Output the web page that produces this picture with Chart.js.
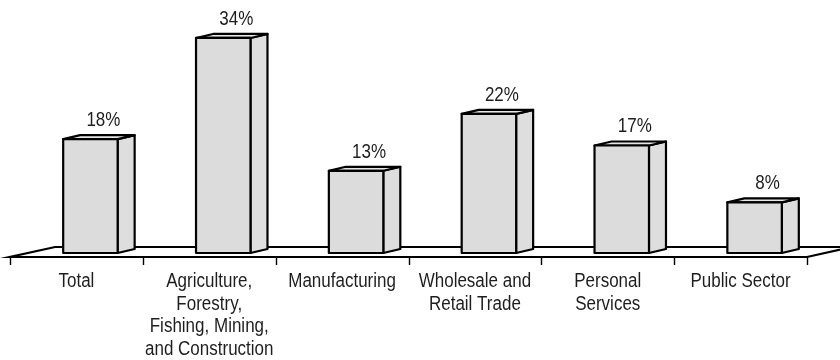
<!DOCTYPE html>
<html>
<head>
<meta charset="utf-8">
<script src="https://cdn.jsdelivr.net/npm/chart.js@4/dist/chart.umd.min.js"></script>
<style>
  html, body { margin: 0; padding: 0; background: #ffffff; }
  #wrap { position: relative; width: 840px; height: 360px; }
</style>
</head>
<body>
<div id="wrap"><canvas id="chart"></canvas></div>
<script>
// Share of workers by sector (percent)
const categories = [
  ['Total'],
  ['Agriculture,', 'Forestry,', 'Fishing, Mining,', 'and Construction'],
  ['Manufacturing'],
  ['Wholesale and', 'Retail Trade'],
  ['Personal', 'Services'],
  ['Public Sector']
];
const shares = [18, 34, 13, 22, 17, 8];
const valueLabels = ['18%', '34%', '13%', '22%', '17%', '8%'];

const FONT = "'Liberation Sans', Arial, sans-serif";
const FONT_SIZE = 20;
const SQUEEZE = 0.85;        // horizontal condensing of the label type
const LINE_STEP = 22.7;
const INK = '#1e1e1e';

// Oblique projection: floor depth and bar placement within it
const FLOOR_DX = 45, FLOOR_DY = -10;
const FRONT_DX = 14, FRONT_DY = -4;   // bar front plane behind the floor's front edge
const DEPTH_DX = 17, DEPTH_DY = -4;   // bar depth

function condensedText(ctx, text, x, y) {
  ctx.save();
  ctx.translate(x, y);
  ctx.scale(SQUEEZE, 1);
  ctx.fillText(text, 0, 0);
  ctx.restore();
}

const floor3d = {
  id: 'floor3d',
  beforeDatasetsDraw(chart) {
    const { ctx, chartArea } = chart;
    const x = chart.scales.x;
    const y0 = chartArea.bottom;
    const left = x.left, right = x.right;
    const step = (right - left) / categories.length;
    ctx.save();
    ctx.strokeStyle = '#000';
    ctx.lineWidth = 2.2;
    ctx.lineJoin = 'miter';
    ctx.beginPath();
    // back edge and left side
    ctx.moveTo(chart.width + 20, y0 + FLOOR_DY);
    ctx.lineTo(left + FLOOR_DX, y0 + FLOOR_DY);
    ctx.lineTo(left, y0);
    // front edge and right side
    ctx.lineTo(right, y0);
    ctx.lineTo(right + FLOOR_DX, y0 + FLOOR_DY);
    ctx.stroke();
    // category ticks on the front edge
    ctx.lineWidth = 1.4;
    ctx.beginPath();
    for (let k = 0; k <= categories.length; k++) {
      const px = Math.round(left + k * step) + 0.5;
      ctx.moveTo(px, y0);
      ctx.lineTo(px, y0 + 8);
    }
    ctx.stroke();

    // category labels under the floor
    ctx.fillStyle = INK;
    ctx.font = FONT_SIZE + 'px ' + FONT;
    ctx.textAlign = 'center';
    ctx.textBaseline = 'alphabetic';
    categories.forEach((lines, i) => {
      const cx = x.getPixelForValue(i);
      lines.forEach((line, j) => {
        condensedText(ctx, line, cx, y0 + 30 + j * LINE_STEP);
      });
    });
    ctx.restore();
  },
  afterDatasetsDraw(chart) {
    const { ctx } = chart;
    const meta = chart.getDatasetMeta(0);
    ctx.save();
    ctx.strokeStyle = '#000';
    ctx.lineWidth = 2.2;
    ctx.lineJoin = 'round';
    meta.data.forEach((bar, i) => {
      const p = bar.getProps(['x', 'y', 'base', 'width'], true);
      const L = p.x - p.width / 2 + FRONT_DX;
      const R = L + p.width;
      const T = p.y + FRONT_DY;
      const B = p.base + FRONT_DY;
      // side face
      ctx.beginPath();
      ctx.moveTo(R, T);
      ctx.lineTo(R + DEPTH_DX, T + DEPTH_DY);
      ctx.lineTo(R + DEPTH_DX, B + DEPTH_DY);
      ctx.lineTo(R, B);
      ctx.closePath();
      ctx.fillStyle = '#dedede';
      ctx.fill();
      ctx.stroke();
      // top face
      ctx.beginPath();
      ctx.moveTo(L, T);
      ctx.lineTo(L + DEPTH_DX, T + DEPTH_DY);
      ctx.lineTo(R + DEPTH_DX, T + DEPTH_DY);
      ctx.lineTo(R, T);
      ctx.closePath();
      ctx.fillStyle = '#e8e8e8';
      ctx.fill();
      ctx.stroke();
      // front face
      ctx.beginPath();
      ctx.rect(L, T, p.width, B - T);
      ctx.fillStyle = '#dcdcdc';
      ctx.fill();
      ctx.stroke();
      // value label
      ctx.fillStyle = INK;
      ctx.font = FONT_SIZE + 'px ' + FONT;
      ctx.textAlign = 'center';
      ctx.textBaseline = 'alphabetic';
      condensedText(ctx, valueLabels[i], (L + R) / 2 + 13, T + DEPTH_DY - 9);
    });
    ctx.restore();
  }
};

new Chart(document.getElementById('chart'), {
  type: 'bar',
  data: {
    labels: categories,
    datasets: [{
      data: shares,
      backgroundColor: 'rgba(0,0,0,0)',
      borderWidth: 0,
      categoryPercentage: 1,
      barPercentage: 0.41
    }]
  },
  options: {
    responsive: true,
    maintainAspectRatio: false,
    animation: false,
    layout: { padding: { left: 10, right: 33, top: 4, bottom: 0 } },
    plugins: { legend: { display: false }, tooltip: { enabled: false } },
    scales: {
      x: {
        offset: true,
        grid: { display: false, drawTicks: false },
        border: { display: false },
        ticks: { display: false },
        afterFit(scale) { scale.height = 103; }
      },
      y: {
        display: false,
        min: 0,
        max: 40
      }
    }
  },
  plugins: [floor3d]
});
</script>
</body>
</html>
